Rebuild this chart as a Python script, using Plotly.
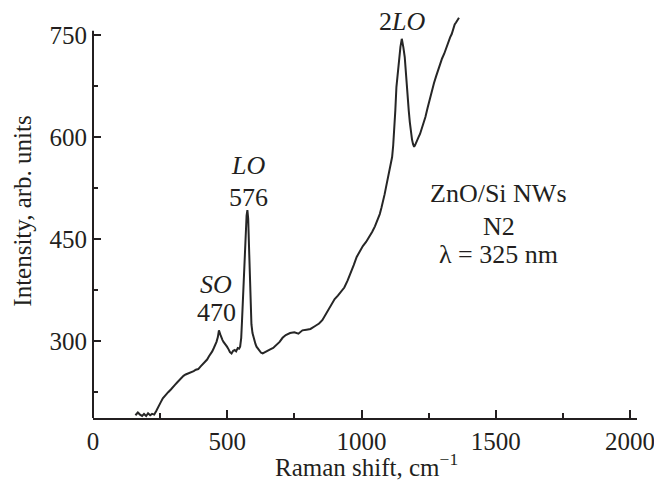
import plotly.graph_objects as go

shift = [158, 167, 175, 183, 190, 198, 205, 213, 220, 228, 235, 244, 252, 260, 270, 280, 290, 298, 306, 315, 322, 329, 337, 345, 352, 360, 368, 375, 383, 392, 401, 410, 418, 425, 432, 438, 444, 450, 455, 460, 465, 469, 474, 478, 482, 486, 490, 493, 499, 505, 510, 516, 522, 528, 533, 539, 544, 548, 552, 555, 559, 562, 565, 568, 572, 575, 578, 581, 584, 587, 590, 594, 598, 601, 605, 609, 614, 620, 626, 632, 640, 650, 660, 671, 683, 695, 706, 718, 734, 750, 765, 780, 795, 810, 826, 842, 854, 865, 877, 889, 900, 912, 924, 936, 948, 960, 971, 982, 994, 1005, 1017, 1029, 1040, 1050, 1060, 1068, 1074, 1080, 1086, 1091, 1097, 1103, 1108, 1114, 1118, 1122, 1126, 1130, 1135, 1140, 1145, 1150, 1153, 1156, 1161, 1164, 1168, 1172, 1176, 1180, 1184, 1188, 1192, 1196, 1200, 1204, 1207, 1212, 1218, 1224, 1231, 1238, 1246, 1254, 1262, 1270, 1278, 1285, 1293, 1300, 1308, 1316, 1324, 1330, 1336, 1342, 1347, 1352, 1356, 1360, 1363]
intensity = [191, 195, 192, 190, 193, 190, 194, 191, 193, 192, 197, 203, 210, 216, 221, 225, 229, 232, 236, 240, 243, 246, 249, 251, 252, 254, 254, 256, 258, 259, 263, 267, 270, 273, 278, 281, 285, 290, 294, 299, 306, 316, 310, 305, 302, 299, 297, 296, 292, 288, 284, 282, 286, 287, 285, 290, 289, 292, 305, 330, 365, 400, 435, 462, 485, 493, 480, 440, 390, 350, 325, 312, 305, 299, 296, 292, 289, 286, 283, 282, 284, 286, 288, 290, 294, 299, 305, 309, 312, 313, 311, 316, 317, 318, 322, 326, 331, 338, 346, 355, 362, 367, 373, 379, 389, 400, 412, 424, 433, 440, 446, 453, 461, 469, 479, 487, 496, 505, 516, 526, 537, 548, 560, 571, 588, 610, 640, 674, 698, 716, 733, 745, 740, 732, 718, 700, 680, 659, 639, 622, 606, 597, 590, 586, 589, 592, 595, 600, 605, 612, 620, 630, 643, 656, 668, 680, 690, 699, 708, 716, 723, 732, 742, 747, 752, 760, 766, 769, 771, 774, 776]

annot_x = [1512, 1512, 1512, 579, 579, 459, 459, 1151]
annot_y = [518, 469, 427, 558, 511, 383, 342, 770]
annot_text = ["ZnO/Si NWs", "N2", "λ = 325 nm", "<i>LO</i>", "576", "<i>SO</i>", "470", "2<i>LO</i>"]

FONT = "Liberation Serif, Times New Roman, serif"
INK = "#231f20"

fig = go.Figure()
fig.add_trace(go.Scatter(x=shift, y=intensity, mode="lines",
                         line=dict(color="#262626", width=2),
                         hoverinfo="skip", showlegend=False))

for x, y, t in zip(annot_x, annot_y, annot_text):
    fig.add_annotation(x=x, y=y, text=t, showarrow=False,
                       font=dict(family=FONT, size=26, color=INK))

# axis titles
fig.add_annotation(xref="paper", yref="paper", x=0.503, y=-0.16,
                   text="Raman shift, cm<sup>−1</sup>", showarrow=False,
                   xanchor="center", yanchor="bottom", borderpad=0,
                   font=dict(family=FONT, size=25, color=INK))
fig.add_annotation(xref="paper", yref="paper", x=-0.129, y=0.514,
                   text="Intensity, arb. units", showarrow=False, textangle=-90,
                   xanchor="center", yanchor="middle",
                   font=dict(family=FONT, size=25, color=INK))

# y axis line stops just above the 750 tick
fig.add_shape(type="line", xref="paper", yref="y", x0=0, x1=0, y0=187, y1=757,
              line=dict(color=INK, width=2))

# page body has an 8px margin, so the figure is sized/offset to compensate
fig.update_layout(
    width=654, height=476,
    margin=dict(l=85, r=20, t=7, b=66),
    paper_bgcolor="white", plot_bgcolor="white",
    font=dict(family=FONT, size=25, color=INK),
    xaxis=dict(range=[0, 2026], tick0=0, dtick=500, ticks="inside", ticklen=8,
               tickwidth=1.5, tickcolor=INK, showline=True, linecolor=INK,
               linewidth=2, showgrid=False, zeroline=False,
               minor=dict(dtick=250, ticks="inside", ticklen=5, tickcolor=INK, tickwidth=1.5),
               tickfont=dict(size=25), ticklabelstandoff=0),
    yaxis=dict(range=[187, 780], tick0=0, dtick=150, ticks="inside", ticklen=8,
               tickwidth=1.5, tickcolor=INK, showline=False,
               showgrid=False, zeroline=False,
               minor=dict(dtick=75, ticks="inside", ticklen=5, tickcolor=INK, tickwidth=1.5),
               tickfont=dict(size=25), ticklabelstandoff=5),
)

fig.write_html("out.html")
